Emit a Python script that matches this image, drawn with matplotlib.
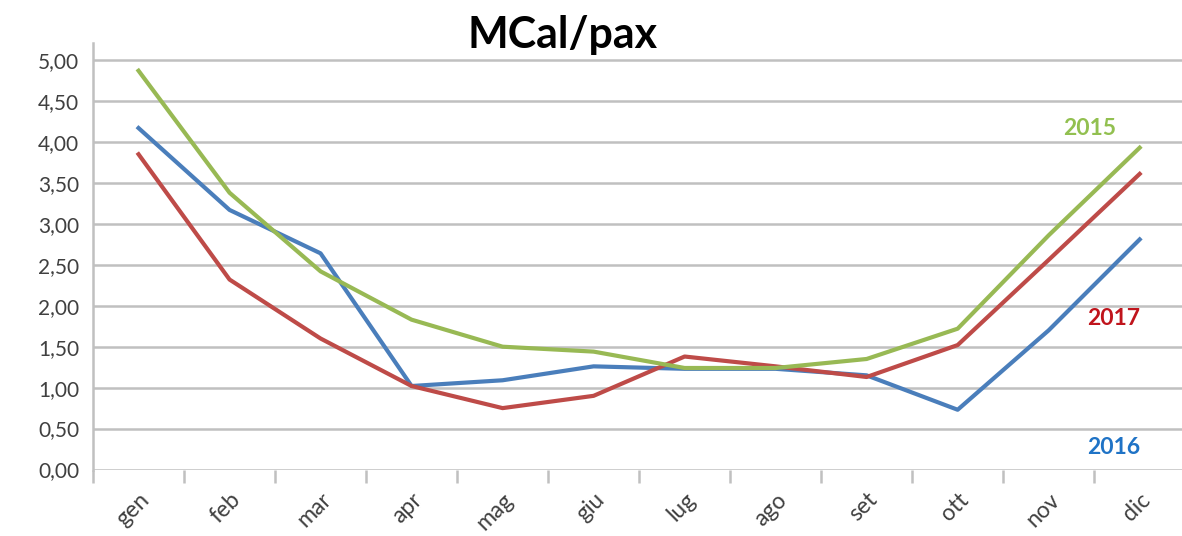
import matplotlib
matplotlib.use("Agg")
import matplotlib.pyplot as plt
from matplotlib.ticker import FixedLocator, FuncFormatter

months = ["gen", "feb", "mar", "apr", "mag", "giu", "lug", "ago", "set", "ott", "nov", "dic"]
mcal_2015 = [4.87, 3.38, 2.42, 1.83, 1.50, 1.44, 1.24, 1.24, 1.35, 1.72, 2.86, 3.93]
mcal_2016 = [4.17, 3.17, 2.64, 1.02, 1.09, 1.26, 1.23, 1.23, 1.15, 0.73, 1.70, 2.81]
mcal_2017 = [3.85, 2.32, 1.60, 1.02, 0.75, 0.90, 1.38, 1.26, 1.13, 1.52, 2.56, 3.61]
y_ticks = [0.0, 0.5, 1.0, 1.5, 2.0, 2.5, 3.0, 3.5, 4.0, 4.5, 5.0]

plt.rcParams["font.family"] = ["Lato", "DejaVu Sans"]

fig = plt.figure(figsize=(11.82, 5.36), dpi=100)
ax = fig.add_axes([0.0787, 0.124, 0.924, 0.796])

x = list(range(len(months)))
grid_col = "#c0c0c0"
ax.set_axisbelow(True)
for yv in y_ticks:
    ax.axhline(yv, color=grid_col, lw=1.8, zorder=0)

ax.plot(x, mcal_2016, color="#4A7EBB", lw=3.0, solid_joinstyle="round", zorder=3)
ax.plot(x, mcal_2017, color="#BE4B48", lw=3.0, solid_joinstyle="round", zorder=3)
ax.plot(x, mcal_2015, color="#98B954", lw=3.0, solid_joinstyle="round", zorder=4)

ax.set_xlim(-0.5, 11.5)
ax.set_ylim(0, 5.21)

ax.yaxis.set_major_locator(FixedLocator(y_ticks))
ax.yaxis.set_major_formatter(FuncFormatter(lambda v, p: f"{v:.2f}".replace(".", ",")))
ax.tick_params(axis="y", length=0, pad=10, labelsize=15, labelcolor="#404040")

ax.set_xticks(x)
ax.set_xticklabels(months, rotation=45, ha="right", va="top", rotation_mode="anchor")
ax.tick_params(axis="x", which="major", length=0, pad=14, labelsize=16.5, labelcolor="#404040")
ax.xaxis.set_minor_locator(FixedLocator([i - 0.5 for i in range(13)]))
ax.tick_params(axis="x", which="minor", length=9, width=1.8, color=grid_col)

for side in ["top", "right", "bottom"]:
    ax.spines[side].set_visible(False)
ax.spines["left"].set_color(grid_col)
ax.spines["left"].set_linewidth(1.8)

ax.text(10.16, 4.17, "2015", color="#92C050", fontsize=16.5, fontweight="bold", ha="left", va="center")
ax.text(10.42, 1.84, "2017", color="#C0141C", fontsize=16.5, fontweight="bold", ha="left", va="center")
ax.text(10.42, 0.27, "2016", color="#1F73C6", fontsize=16.5, fontweight="bold", ha="left", va="center")

fig.text(0.476, 0.935, "MCal/pax", fontsize=31, fontweight="bold", ha="center", va="center", color="#000000")

fig.savefig("out.png", dpi=100, facecolor="white")
